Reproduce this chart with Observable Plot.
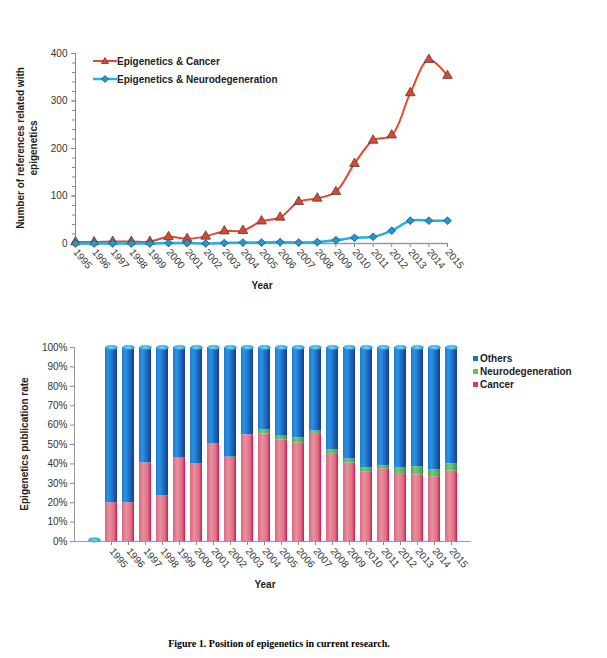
<!DOCTYPE html>
<html>
<head>
<meta charset="utf-8">
<script src="https://cdn.jsdelivr.net/npm/d3@7"></script>
<script src="https://cdn.jsdelivr.net/npm/@observablehq/plot@0.6"></script>
<style>
  body { margin: 0; background: #fff; }
  #page { position: relative; width: 607px; height: 658px; overflow: hidden; font-family: "Liberation Sans", Arial, sans-serif; color: #222; }
  .chart { position: absolute; left: 0; }
  .lbl { position: absolute; font-size: 10px; font-weight: bold; white-space: nowrap; color: #222; }
  .rot { transform: translate(-50%, -50%) rotate(-90deg); text-align: center; line-height: 12.5px; }
  .ctr { transform: translate(-50%, -50%); }
  .leg { position: absolute; font-size: 10px; font-weight: bold; white-space: nowrap; color: #222; display: flex; align-items: center; }
  .leg svg { display: block; }
  .sq { display: inline-block; width: 5px; height: 5px; margin-right: 2px; }
  #caption { position: absolute; left: 279px; top: 643px; transform: translate(-50%, -50%); font-family: "Liberation Serif", "Times New Roman", serif; font-weight: bold; font-size: 10px; white-space: nowrap; color: #000; }
</style>
</head>
<body>
<div id="page">
  <div id="topChart" class="chart" style="top:0px"></div>
  <div id="bottomChart" class="chart" style="top:300px"></div>

  <div class="lbl rot" style="left:27px; top:148px">Number of references related with<br>epigenetics</div>
  <div class="lbl ctr" style="left:262px; top:285px">Year</div>

  <div class="leg" style="left:93px; top:54px; height:14px">
    <svg width="24" height="14"><line x1="0" y1="7" x2="24" y2="7" stroke="#e8462c" stroke-width="2"/><path d="M12,3.5 L15.5,9.5 L8.5,9.5 Z" fill="#e0442c" stroke="#444" stroke-width="0.8"/></svg>
    <span>Epigenetics &amp; Cancer</span>
  </div>
  <div class="leg" style="left:93px; top:72px; height:14px">
    <svg width="24" height="14"><line x1="0" y1="7" x2="24" y2="7" stroke="#1fb0e8" stroke-width="2.5"/><path d="M12,3.5 L15.5,7 L12,10.5 L8.5,7 Z" fill="#1a9ad6" stroke="#444" stroke-width="0.8"/></svg>
    <span>Epigenetics &amp; Neurodegeneration</span>
  </div>

  <div class="lbl rot" style="left:25px; top:444px">Epigenetics publication rate</div>
  <div class="lbl ctr" style="left:265px; top:584px">Year</div>

  <div class="leg" style="left:473px; top:352px; height:12px"><span class="sq" style="background:#1f6fc4"></span>Others</div>
  <div class="leg" style="left:473px; top:365px; height:12px"><span class="sq" style="background:#6abf5e"></span>Neurodegeneration</div>
  <div class="leg" style="left:473px; top:378px; height:12px"><span class="sq" style="background:#e0356a"></span>Cancer</div>

  <div id="caption">Figure 1. Position of epigenetics in current research.</div>
</div>
<script>
// ---------- data ----------
const years = [1995,1996,1997,1998,1999,2000,2001,2002,2003,2004,2005,2006,2007,2008,2009,2010,2011,2012,2013,2014,2015];
const cancerRefs = [3,3,4,4,4,14,10,15,26,27,47,55,88,95,109,168,217,228,317,387,353];
const neuroRefs  = [0,0,0,0,0,1,1,0,1,2,2,3,2,3,7,12,14,27,48,48,48];

const yTicksTop = [0,100,200,300,400];
const yMinorTop = [0,20,40,60,80,100,120,140,160,180,200,220,240,260,280,300,320,340,360,380,400];

const barCategories = ["", "1995","1996","1997","1998","1999","2000","2001","2002","2003","2004","2005","2006","2007","2008","2009","2010","2011","2012","2013","2014","2015"];
const cancerShare = [0, 20,20,40.5,23.5,43,40,50.5,43.5,55,55.5,52.4,50.8,55.2,44.9,40.4,36,37.5,35,34.4,33.4,36.3];
const neuroShare  = [0, 0,0,0,0,0,0,0,0,0,2,1.9,2.7,1.8,2.3,2.1,2,1.7,2.9,4.2,3.6,3.8];
const seriesNames = ["Cancer","Neurodegeneration","Others"];
const yTicksBottom = [0,10,20,30,40,50,60,70,80,90,100];

// ---------- top line chart ----------
const lineData = years.map((y, i) => ({year: y, cancer: cancerRefs[i], neuro: neuroRefs[i]}));

const lineChart = Plot.plot({
  width: 607,
  height: 300,
  marginTop: 53,
  marginBottom: 57,
  marginLeft: 75,
  marginRight: 160,
  style: {fontFamily: "'Liberation Sans', Arial, sans-serif", fontSize: "10px", color: "#333", background: "transparent"},
  x: {domain: [1995, 2015]},
  y: {domain: [0, 400]},
  marks: [
    Plot.axisY(yMinorTop, {tickSize: 3, tickFormat: () => "", stroke: "#888", label: null}),
    Plot.axisY(yTicksTop, {tickSize: 4, tickPadding: 4, stroke: "#888", fill: "#333", label: null}),
    Plot.axisX(years, {tickSize: 4, tickRotate: 50, tickPadding: 3, tickFormat: d => String(d), stroke: "#888", fill: "#333", label: null}),
    Plot.ruleX([1995], {stroke: "#888"}),
    Plot.ruleY([0], {stroke: "#999", strokeWidth: 1.5}),
    Plot.line(lineData, {x: "year", y: "cancer", curve: "catmull-rom", stroke: "#e8462c", strokeWidth: 2}),
    Plot.dot(lineData, {x: "year", y: "cancer", symbol: "triangle", r: 3.6, fill: "#e0442c", stroke: "#444", strokeWidth: 0.8}),
    Plot.line(lineData, {x: "year", y: "neuro", curve: "catmull-rom", stroke: "#1fb0e8", strokeWidth: 2.5}),
    Plot.dot(lineData, {x: "year", y: "neuro", symbol: "diamond2", r: 3.5, fill: "#1a9ad6", stroke: "#444", strokeWidth: 0.8})
  ]
});
document.getElementById("topChart").appendChild(lineChart);

// ---------- bottom stacked cylinder chart ----------
const barData = [];
barCategories.forEach((c, i) => {
  const others = c === "" ? 0 : 100 - cancerShare[i] - neuroShare[i];
  barData.push({cat: c, series: "Cancer", value: cancerShare[i]});
  barData.push({cat: c, series: "Neurodegeneration", value: neuroShare[i]});
  barData.push({cat: c, series: "Others", value: others});
});
const capData = barCategories.map((c, i) => ({cat: c, total: c === "" ? 0.8 : 100}));

const capSymbol = {
  draw(ctx) {
    const rx = 6, ry = 2.1, k = 0.5523;
    ctx.moveTo(rx, 0);
    ctx.bezierCurveTo(rx, ry * k, rx * k, ry, 0, ry);
    ctx.bezierCurveTo(-rx * k, ry, -rx, ry * k, -rx, 0);
    ctx.bezierCurveTo(-rx, -ry * k, -rx * k, -ry, 0, -ry);
    ctx.bezierCurveTo(rx * k, -ry, rx, -ry * k, rx, 0);
    ctx.closePath();
  }
};

const barChart = Plot.plot({
  width: 607,
  height: 300,
  marginTop: 47,
  marginBottom: 59,
  marginLeft: 74,
  marginRight: 136,
  style: {fontFamily: "'Liberation Sans', Arial, sans-serif", fontSize: "10px", color: "#333", background: "transparent"},
  x: {domain: barCategories, paddingInner: 0.31, paddingOuter: 0.5},
  y: {domain: [0, 100]},
  color: {domain: seriesNames, range: ["url(#gCancer)", "url(#gNeuro)", "url(#gOthers)"]},
  marks: [
    Plot.axisY(yTicksBottom, {tickSize: 4, tickPadding: 3, tickFormat: d => d + "%", stroke: "#888", fill: "#333", label: null}),
    Plot.axisX(barCategories.slice(1), {tickSize: 4, tickRotate: 50, tickPadding: 4, stroke: "#888", fill: "#333", label: null}),
    Plot.barY(barData, {x: "cat", y: "value", fill: "series"}),
    Plot.dot(capData, {x: "cat", y: "total", symbol: capSymbol, fill: "url(#gCap)", stroke: "#2f8fd4", strokeWidth: 0.7}),
    Plot.ruleY([0], {stroke: "#999", strokeWidth: 1.2}),
    Plot.frame({anchor: "left", stroke: "#999"})
  ]
});
d3.select(barChart).insert("defs", ":first-child").html(`
  <linearGradient id="gCancer" x1="0" x2="1" y1="0" y2="0">
    <stop offset="0" stop-color="#d9687e"/>
    <stop offset="0.35" stop-color="#e8909f"/>
    <stop offset="0.75" stop-color="#df6f85"/>
    <stop offset="1" stop-color="#d41650"/>
  </linearGradient>
  <linearGradient id="gNeuro" x1="0" x2="1" y1="0" y2="0">
    <stop offset="0" stop-color="#4aa95a"/>
    <stop offset="0.35" stop-color="#7cc77e"/>
    <stop offset="0.75" stop-color="#56b262"/>
    <stop offset="1" stop-color="#2f8d45"/>
  </linearGradient>
  <linearGradient id="gOthers" x1="0" x2="1" y1="0" y2="0">
    <stop offset="0" stop-color="#1f7ccf"/>
    <stop offset="0.3" stop-color="#2a93e0"/>
    <stop offset="0.7" stop-color="#1b63bd"/>
    <stop offset="1" stop-color="#1a3a92"/>
  </linearGradient>
  <linearGradient id="gCap" x1="0" x2="1" y1="0" y2="0">
    <stop offset="0" stop-color="#3cb2ea"/>
    <stop offset="0.5" stop-color="#66cdf3"/>
    <stop offset="1" stop-color="#2ea2e0"/>
  </linearGradient>
`);
document.getElementById("bottomChart").appendChild(barChart);
</script>
</body>
</html>
